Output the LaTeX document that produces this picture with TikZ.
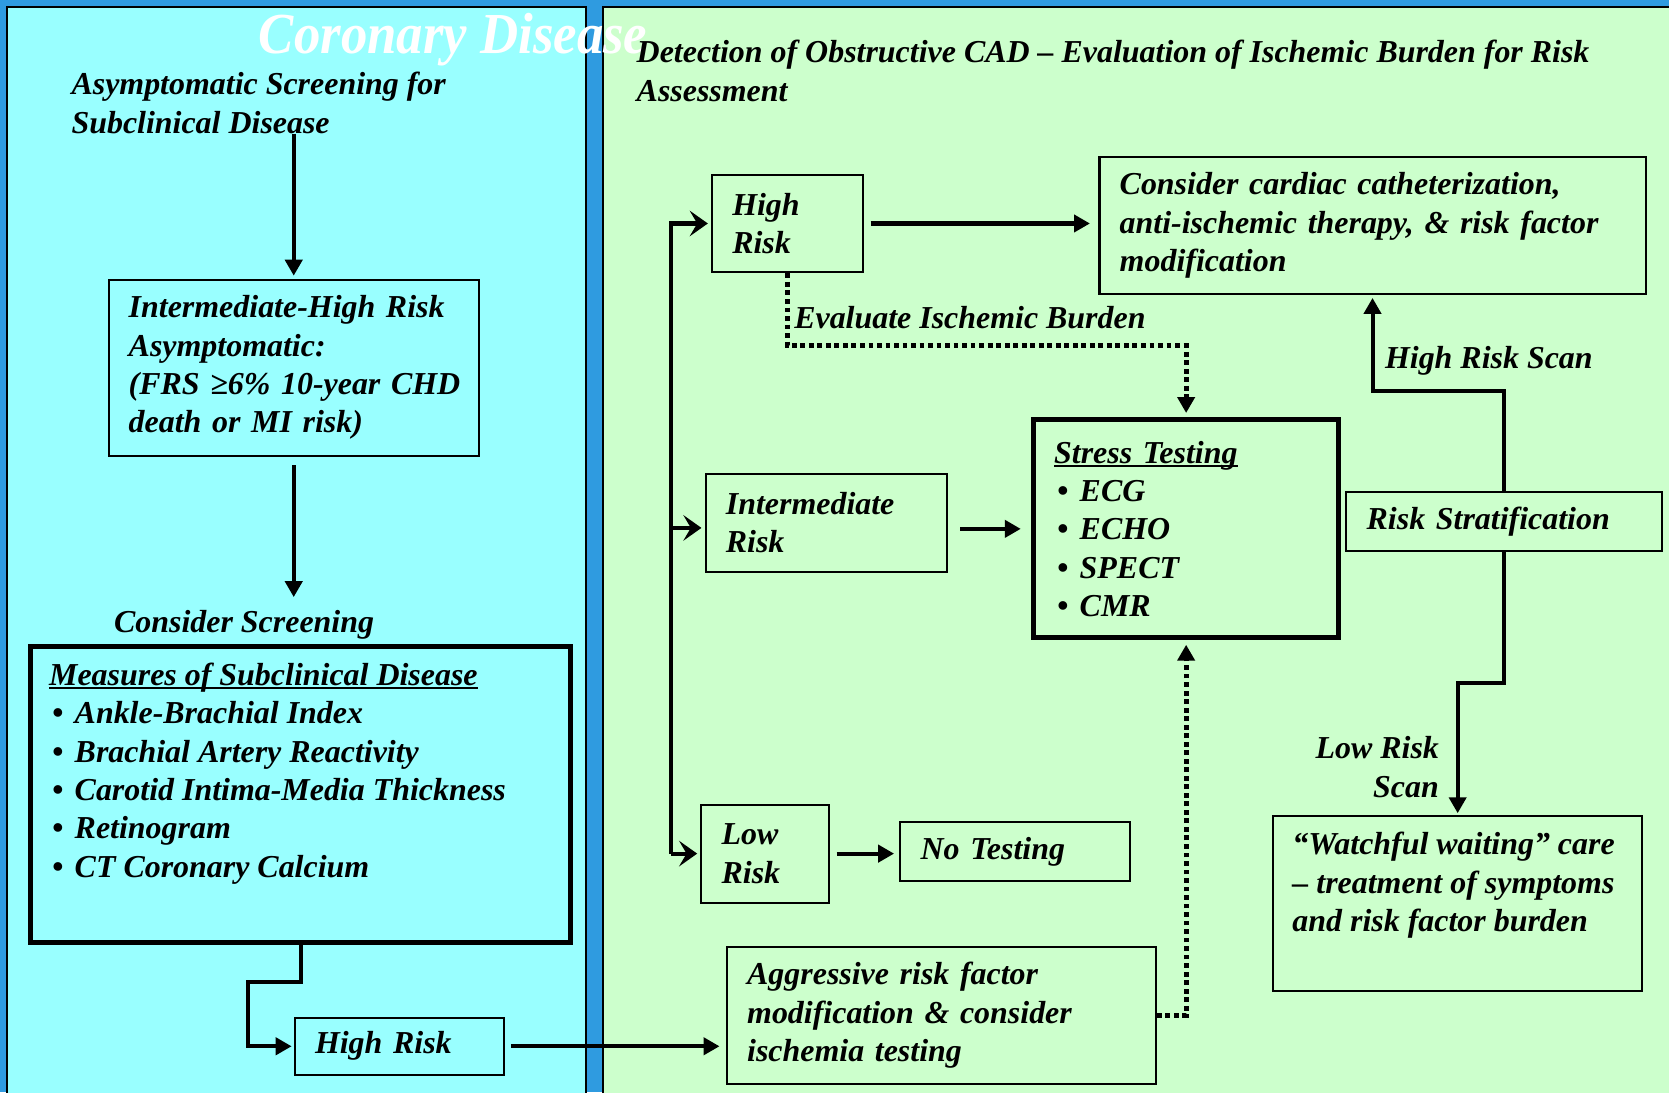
\documentclass[tikz,border=0pt]{standalone}
\usepackage{fontspec}
\setmainfont{Liberation Serif}
\newfontfamily\titlefont{Liberation Serif}[FakeStretch=0.91]
\usetikzlibrary{arrows.meta}
\definecolor{bgblue}{HTML}{2F9BE0}
\definecolor{cyanp}{HTML}{99FFFF}
\definecolor{greenp}{HTML}{CCFFCC}
\newcommand\bodyfont{\fontsize{30pt}{36pt}\selectfont\bfseries\itshape}
\newcommand\myul[1]{\setbox0=\hbox{#1}\rlap{\rule[-3.5pt]{\wd0}{2pt}}\box0}
\newcommand\bul{\hspace*{3pt}\makebox[21pt][l]{\upshape\textbullet}}
\tikzset{
  box/.style={draw=black, line width=1.9pt, anchor=north west, inner xsep=19pt, inner ysep=0pt, align=left, font=\bodyfont},
  thickbox/.style={box, line width=4.7pt},
  txt/.style={font=\bodyfont, inner sep=0pt, align=left},
  arr/.style={line width=3.8pt, -{Triangle[length=15pt,width=16pt]}},
  forkarr/.style={line width=3.8pt, -{Stealth[length=17pt,width=24pt,inset=7pt]}},
  dotarr/.style={line width=4.5pt, dash pattern=on 4.5pt off 3.5pt, -{Triangle[length=15pt,width=16pt]}},
}
\begin{document}
\begin{tikzpicture}[x=1pt,y=-1pt]
\useasboundingbox (0,0) rectangle (1568,1026);
\fill[bgblue] (0,0) rectangle (1568,1026);
\filldraw[fill=cyanp, draw=black, line width=1.8pt] (6.5,6.2) rectangle (550.5,1040);
\filldraw[fill=greenp, draw=black, line width=1.8pt] (566.5,6.2) rectangle (1590,1040);

% ---------- left panel ----------
\node[anchor=base west, inner sep=0pt, text=white, font=\titlefont\fontsize{54.5pt}{60pt}\selectfont\bfseries\itshape] (title) at (243,50) {Coronary Disease};

\node[txt, anchor=base west] (asym) at (67,125) {Asymptomatic Screening for\\Subclinical Disease};

\node[box, minimum width=348pt, minimum height=165pt, text width=310pt] (ihr) at (101,262)
  {Intermediate-High Risk\\Asymptomatic:\\\mbox{(FRS ≥6\% 10-year CHD}\\death or MI risk)};

\node[txt, anchor=base west] (cs) at (107,594) {Consider Screening};

\node[thickbox, minimum width=508pt, minimum height=278pt] (msd) at (26,605) {};
\node[txt, anchor=base west] (msdt) at (46,824)
  {\myul{Measures of Subclinical Disease}\\
   \bul Ankle-Brachial Index\\
   \bul Brachial Artery Reactivity\\
   \bul Carotid Intima-Media Thickness\\
   \bul Retinogram\\
   \bul CT Coronary Calcium};

\node[box, minimum width=197pt, minimum height=54pt, text width=159pt] (hrl) at (276,955) {High Risk};

\draw[arr] (asym.south -| ihr.north) -- ([yshift=3pt]ihr.north);
\draw[arr] ([yshift=-8pt]ihr.south) -- ([yshift=12pt]cs.north -| ihr.south);
\draw[arr] (msd.south) -- ++(0,35) -- ++(-49,0) |- ([xshift=-2pt]hrl.west);

% ---------- right panel ----------
\node[txt, anchor=base west] (rt) at (598,95)
  {Detection of Obstructive CAD -- Evaluation of Ischemic Burden for Risk\\Assessment};

\node[box, minimum width=142pt, minimum height=92pt, text width=104pt] (hr) at (668,163) {High\\Risk};
\node[box, minimum width=513pt, minimum height=128pt, text width=475pt] (cons) at (1032,147)
  {Consider cardiac catheterization,\\anti-ischemic therapy, \& risk factor\\modification};
\node[box, minimum width=227pt, minimum height=92pt, text width=189pt] (ir) at (662,444) {Intermediate\\Risk};
\node[thickbox, minimum width=286pt, minimum height=205pt, text width=248pt] (st) at (969,392)
  {\myul{Stress Testing}\\ \bul ECG\\ \bul ECHO\\ \bul SPECT\\ \bul CMR};
\node[box, minimum width=296pt, minimum height=56pt, text width=258pt] (rs) at (1264,461) {Risk Stratification};
\node[box, minimum width=120pt, minimum height=92pt, text width=82pt] (lr) at (658,755) {Low\\Risk};
\node[box, minimum width=216pt, minimum height=56pt, text width=178pt] (nt) at (845,771) {No Testing};
\node[box, minimum width=347pt, minimum height=164pt] (wb) at (1195,766) {};
\node[txt, anchor=base west] (wbt) at (1214,875)
  {“Watchful waiting” care\\-- treatment of symptoms\\and risk factor burden};
\node[box, minimum width=403pt, minimum height=128pt, text width=365pt] (agg) at (682,889)
  {Aggressive risk factor\\modification \& consider\\ischemia testing};

\node[txt, anchor=base west] (eib) at (746,309) {Evaluate Ischemic Burden};
\node[txt, anchor=base west] (hrs) at (1301,346) {High Risk Scan};
\node[txt, align=right, anchor=base east] (lrs) at (1352,749) {Low Risk\\Scan};

% connectors
\draw[arr] ([xshift=6pt]hr.east) -- ([xshift=-8pt]hr.east -| cons.west);
\draw[dotarr] (hr.south) -- ++(0,68) -| ([yshift=4pt]st.north);
\draw[arr] ([xshift=11pt]st.west -| ir.east) -- ([xshift=-10pt]st.west);
\draw[arr] (rs.north) -- ++(0,-94) -| ([yshift=-3pt]cons.south);
\draw[arr] (rs.south) -- ++(0,123) -| ([yshift=2pt]wb.north);
\draw[arr] ([xshift=6pt]lr.east) -- ([xshift=-5pt]lr.east -| nt.west);
\draw[dotarr] (agg.east) -| ([yshift=-4pt]st.south);
\draw[arr] ([xshift=5pt]hrl.east) -- ([xshift=-6pt]hrl.east -| agg.west);

\path (lr.west) ++(-28,0) coordinate (fk);
\draw[forkarr] (fk) |- ([xshift=-3pt]hr.west);
\draw[forkarr] ([yshift=-5pt]fk |- ir.west) -- ([xshift=-3pt,yshift=-5pt]ir.west);
\draw[forkarr] (fk) -- ([xshift=-3pt]lr.west);
\end{tikzpicture}
\end{document}
